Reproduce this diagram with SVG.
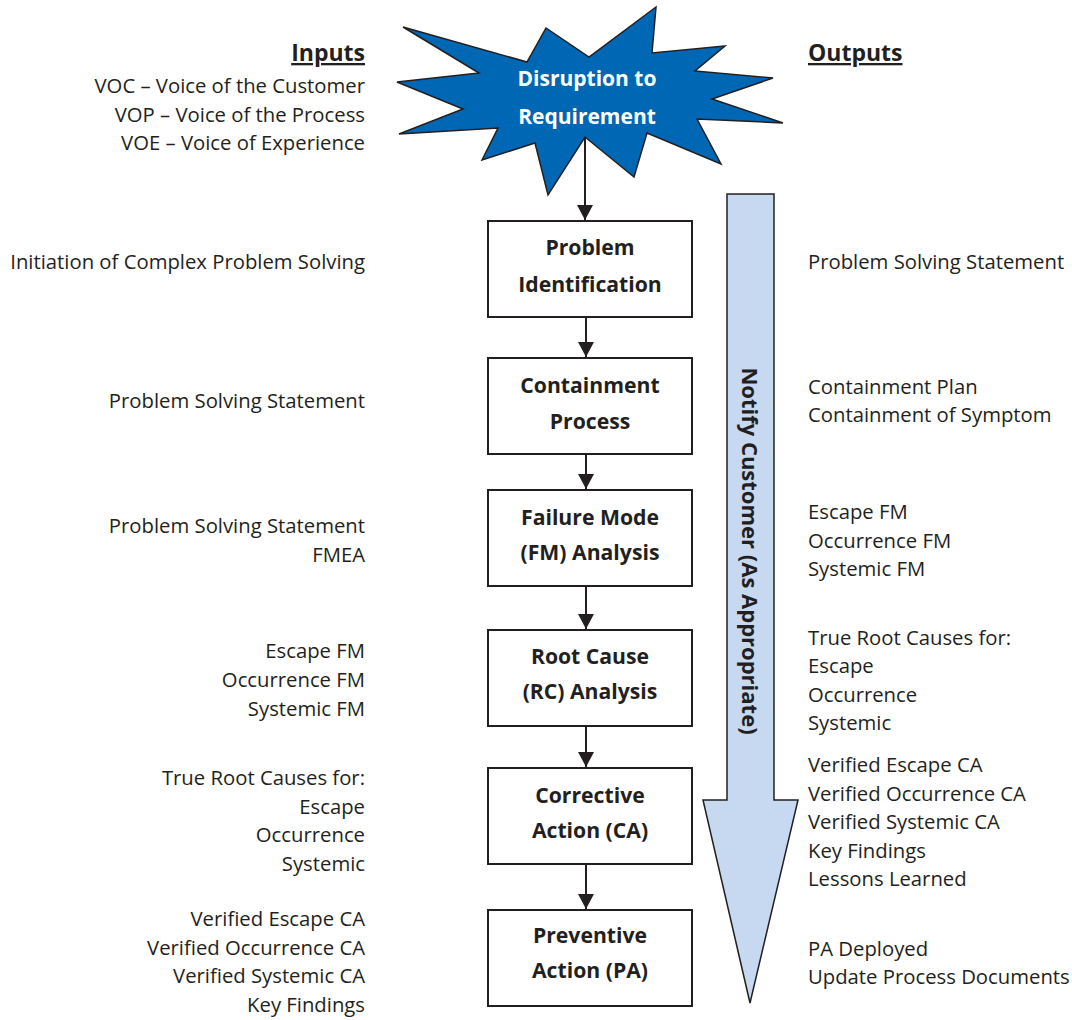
<svg xmlns="http://www.w3.org/2000/svg" width="1072" height="1020" viewBox="0 0 1072 1020">
<defs>
<style>
.t{font-family:"Open Sans","Liberation Sans",sans-serif;font-size:20.3px;fill:#231f20}
.l{text-anchor:end}
.h{font-family:"Open Sans","Liberation Sans",sans-serif;font-size:23px;font-weight:bold;fill:#231f20;text-decoration:underline}
.b{font-family:"Open Sans","Liberation Sans",sans-serif;font-size:21.2px;font-weight:bold;fill:#231f20;text-anchor:middle}
.n{font-family:"Open Sans","Liberation Sans",sans-serif;font-size:22px;font-weight:bold;fill:#231f20;text-anchor:middle}
.w{font-family:"Open Sans","Liberation Sans",sans-serif;font-size:21px;font-weight:bold;fill:#ffffff;text-anchor:middle}
.box{fill:#ffffff;stroke:#231f20;stroke-width:2}
.con{stroke:#231f20;stroke-width:2;fill:none}
</style>
<marker id="ah" markerWidth="16" markerHeight="16" refX="15" refY="8" orient="auto" markerUnits="userSpaceOnUse">
<path d="M0,0 L15,8 L0,16 Z" fill="#231f20"/>
</marker>
</defs>
<rect width="1072" height="1020" fill="#ffffff"/>

<g id="notify">
<path d="M727,194 L774,194 L774,800 L798,800 L750,1003 L703,800 L727,800 Z" fill="#c6d9f0" stroke="#231f20" stroke-width="1.5"/>
<text class="n" transform="translate(750,551) rotate(90)" y="8">Notify Customer (As Appropriate)</text>
</g>

<g id="connectors">
<line class="con" x1="585" y1="137" x2="585" y2="220" marker-end="url(#ah)"/>
<line class="con" x1="586" y1="317" x2="586" y2="357" marker-end="url(#ah)"/>
<line class="con" x1="586" y1="454" x2="586" y2="489" marker-end="url(#ah)"/>
<line class="con" x1="586" y1="586" x2="586" y2="629" marker-end="url(#ah)"/>
<line class="con" x1="586" y1="726" x2="586" y2="767" marker-end="url(#ah)"/>
<line class="con" x1="586" y1="864" x2="586" y2="909" marker-end="url(#ah)"/>
</g>

<g id="disruption">
<path d="M403,27 L527,62 L546,28 L589,57 L656,7 L652,53 L725,46 L695,71 L773,78 L712,99 L783,123 L697,119 L721,164 L647,133 L634,177 L585,137 L548,195 L535,143 L482,160 L498,128 L399,134 L463,109 L397,82 L479,73 Z" fill="#0067b4" stroke="#231f20" stroke-width="1.5" stroke-linejoin="miter"/>
<text class="w" x="587" y="86">Disruption to</text>
<text class="w" x="587" y="124">Requirement</text>
</g>

<g id="box1"><rect class="box" x="488" y="221" width="204" height="96"/>
<text class="b" x="590" y="255">Problem</text><text class="b" x="590" y="292">Identification</text></g>
<g id="box2"><rect class="box" x="488" y="358" width="204" height="96"/>
<text class="b" x="590" y="393">Containment</text><text class="b" x="590" y="429">Process</text></g>
<g id="box3"><rect class="box" x="488" y="490" width="204" height="96"/>
<text class="b" x="590" y="525">Failure Mode</text><text class="b" x="590" y="560">(FM) Analysis</text></g>
<g id="box4"><rect class="box" x="488" y="630" width="204" height="96"/>
<text class="b" x="590" y="664">Root Cause</text><text class="b" x="590" y="699">(RC) Analysis</text></g>
<g id="box5"><rect class="box" x="488" y="768" width="204" height="96"/>
<text class="b" x="590" y="803">Corrective</text><text class="b" x="590" y="838">Action (CA)</text></g>
<g id="box6"><rect class="box" x="488" y="910" width="204" height="96"/>
<text class="b" x="590" y="943">Preventive</text><text class="b" x="590" y="978">Action (PA)</text></g>

<g id="inputs">
<text class="h l" x="365" y="61" style="text-anchor:end">Inputs</text>
<text class="t l" x="365" y="93">VOC – Voice of the Customer</text>
<text class="t l" x="365" y="122">VOP – Voice of the Process</text>
<text class="t l" x="365" y="150">VOE – Voice of Experience</text>
<text class="t l" x="365" y="269">Initiation of Complex Problem Solving</text>
<text class="t l" x="365" y="408">Problem Solving Statement</text>
<text class="t l" x="365" y="533">Problem Solving Statement</text>
<text class="t l" x="365" y="562">FMEA</text>
<text class="t l" x="365" y="658">Escape FM</text>
<text class="t l" x="365" y="687">Occurrence FM</text>
<text class="t l" x="365" y="716">Systemic FM</text>
<text class="t l" x="365" y="785">True Root Causes for:</text>
<text class="t l" x="365" y="814">Escape</text>
<text class="t l" x="365" y="842">Occurrence</text>
<text class="t l" x="365" y="871">Systemic</text>
<text class="t l" x="365" y="926">Verified Escape CA</text>
<text class="t l" x="365" y="955">Verified Occurrence CA</text>
<text class="t l" x="365" y="983">Verified Systemic CA</text>
<text class="t l" x="365" y="1012">Key Findings</text>
</g>

<g id="outputs">
<text class="h" x="808" y="61">Outputs</text>
<text class="t" x="808" y="269">Problem Solving Statement</text>
<text class="t" x="808" y="394">Containment Plan</text>
<text class="t" x="808" y="422">Containment of Symptom</text>
<text class="t" x="808" y="519">Escape FM</text>
<text class="t" x="808" y="548">Occurrence FM</text>
<text class="t" x="808" y="576">Systemic FM</text>
<text class="t" x="808" y="645">True Root Causes for:</text>
<text class="t" x="808" y="673">Escape</text>
<text class="t" x="808" y="702">Occurrence</text>
<text class="t" x="808" y="730">Systemic</text>
<text class="t" x="808" y="772">Verified Escape CA</text>
<text class="t" x="808" y="801">Verified Occurrence CA</text>
<text class="t" x="808" y="829">Verified Systemic CA</text>
<text class="t" x="808" y="858">Key Findings</text>
<text class="t" x="808" y="886">Lessons Learned</text>
<text class="t" x="808" y="956">PA Deployed</text>
<text class="t" x="808" y="984">Update Process Documents</text>
</g>
</svg>
